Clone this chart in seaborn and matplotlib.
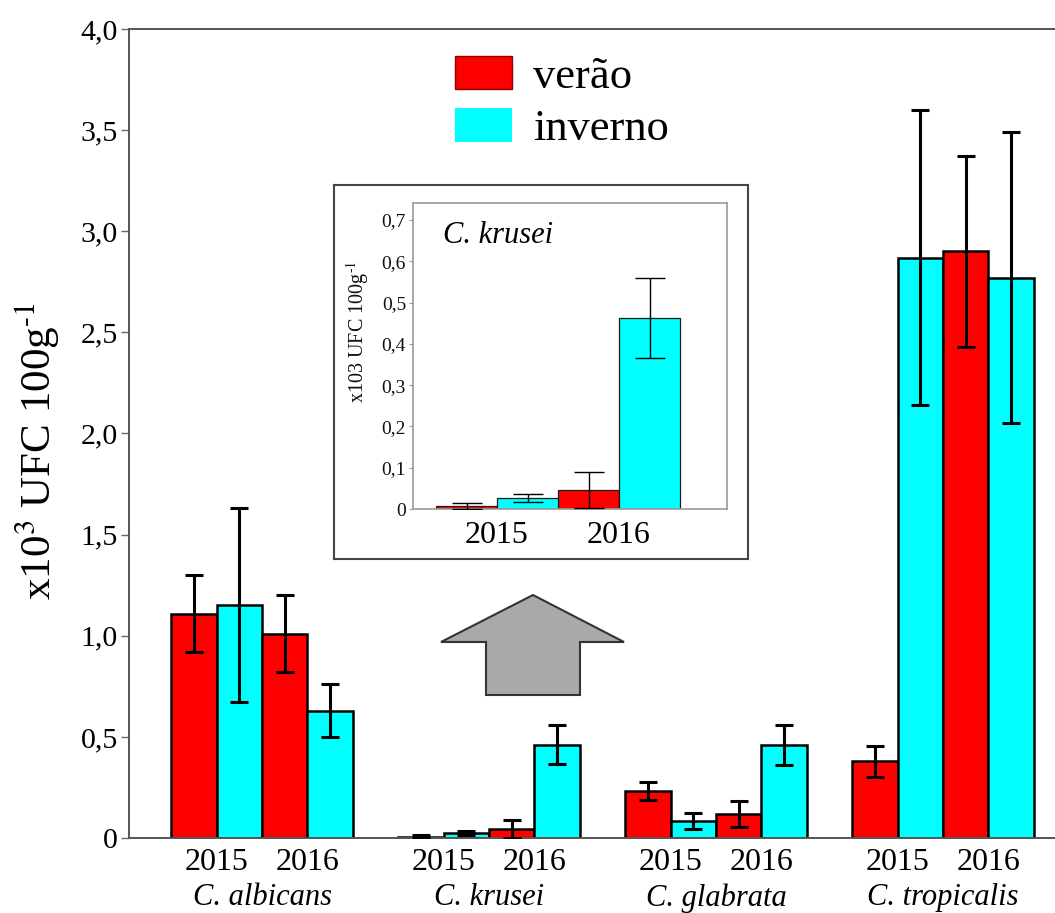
import matplotlib
matplotlib.use("Agg")
import matplotlib.pyplot as plt
from matplotlib.patches import Patch, Polygon
import matplotlib.transforms as mtransforms
import numpy as np
import pandas as pd
import seaborn as sns

# ---------------- data ----------------
species = ["C. albicans", "C. krusei", "C. glabrata", "C. tropicalis"]
groups = ["verão 2015", "inverno 2015", "verão 2016", "inverno 2016"]
years = ["2015", "2016"]
seasons = ["verão", "inverno"]

albicans_mean = [1.11, 1.15, 1.01, 0.63]
krusei_mean = [0.007, 0.027, 0.046, 0.462]
glabrata_mean = [0.233, 0.084, 0.119, 0.46]
tropicalis_mean = [0.38, 2.87, 2.90, 2.77]

albicans_err = [0.19, 0.48, 0.19, 0.13]
krusei_err = [0.007, 0.010, 0.044, 0.097]
glabrata_err = [0.045, 0.038, 0.063, 0.10]
tropicalis_err = [0.077, 0.73, 0.47, 0.72]

main_ticks = [0, 0.5, 1.0, 1.5, 2.0, 2.5, 3.0, 3.5, 4.0]
main_ticklabels = ["0", "0,5", "1,0", "1,5", "2,0", "2,5", "3,0", "3,5", "4,0"]
inset_ticks = [0, 0.1, 0.2, 0.3, 0.4, 0.5, 0.6, 0.7]
inset_ticklabels = ["0", "0,1", "0,2", "0,3", "0,4", "0,5", "0,6", "0,7"]

RED = "#ff0000"
CYAN = "#00ffff"

means = [albicans_mean, krusei_mean, glabrata_mean, tropicalis_mean]
errs = [albicans_err, krusei_err, glabrata_err, tropicalis_err]
df = pd.DataFrame(
    [(sp, g, means[i][j], errs[i][j])
     for i, sp in enumerate(species) for j, g in enumerate(groups)],
    columns=["species", "group", "value", "err"],
)

# ---------------- style ----------------
sns.set_theme(style="white")
plt.rcParams["font.family"] = ["Liberation Serif", "DejaVu Serif"]
plt.rcParams["mathtext.fontset"] = "stix"
for key in ["text.color", "axes.labelcolor", "xtick.color", "ytick.color"]:
    plt.rcParams[key] = "black"

W, H = 1055, 913
fig = plt.figure(figsize=(W / 100, H / 100), dpi=100)


def fbox(x0, y0, x1, y1):
    """Pixel box (top-left origin) -> figure fraction rect."""
    return [x0 / W, 1 - y1 / H, (x1 - x0) / W, (y1 - y0) / H]


# ---------------- main chart ----------------
ax = fig.add_axes(fbox(129, 29, 1055, 838))
sns.barplot(
    data=df, x="species", y="value", hue="group", hue_order=groups,
    order=species, palette=[RED, CYAN, RED, CYAN], saturation=1,
    errorbar=None, edgecolor="black", linewidth=1.8, legend=False,
    width=0.8, ax=ax, zorder=2,
)
bar_sets = list(ax.containers)
for j, cont in enumerate(bar_sets):
    sub = df[df["group"] == groups[j]].set_index("species").loc[species]
    xs = [p.get_x() + p.get_width() / 2 for p in cont.patches]
    ax.errorbar(xs, sub["value"].values, yerr=sub["err"].values, fmt="none",
                ecolor="black", elinewidth=2.2, capsize=6.5, capthick=2.2,
                zorder=3)

ax.set_xlim(-0.586, 3.493)
ax.set_ylim(0, 4.0)
ax.set_yticks(main_ticks)
ax.set_yticklabels(main_ticklabels, fontsize=21.5)
ax.tick_params(axis="y", left=True, length=6, width=1, color="#666666",
               pad=2, labelcolor="black")
ax.set_xticks([])
ax.set_xlabel("")
ax.set_ylabel("")
for side in ["left", "bottom", "top"]:
    ax.spines[side].set_color("#555555")
    ax.spines[side].set_linewidth(1.4)
ax.spines["right"].set_visible(False)

trans = mtransforms.blended_transform_factory(ax.transData, ax.transAxes)
for i, sp in enumerate(species):
    for k, yr in enumerate(years):
        ax.text(i - 0.2 + 0.4 * k, -0.030, yr, transform=trans, ha="center",
                va="center", fontsize=23)
    ax.text(i, -0.074, sp, transform=trans, ha="center", va="center",
            fontsize=22, style="italic")

fig.text(37 / W, 1 - 451 / H, r"x10$^{3}$ UFC 100g$^{\text{-1}}$",
         rotation=90, ha="center", va="center", fontsize=31)

ax.legend(
    handles=[Patch(facecolor=RED, edgecolor="#8b0000", linewidth=1),
             Patch(facecolor=CYAN, edgecolor="none")],
    labels=seasons, loc="upper left", bbox_to_anchor=(455 / W, 1 - 56 / H),
    bbox_transform=fig.transFigure, frameon=False, fontsize=32,
    handlelength=1.28, handleheight=0.78, handletextpad=0.47,
    labelspacing=0.25, borderpad=0, borderaxespad=0,
)

# arrow pointing to the zoomed panel
arrow_px = [(533, 595), (624, 642), (580, 642), (580, 695),
            (486, 695), (486, 642), (441, 642)]
arrow = Polygon([(x / W, 1 - y / H) for x, y in arrow_px], closed=True,
                facecolor="#aba8a8", edgecolor="#333333", linewidth=1.5,
                transform=fig.transFigure, clip_on=False, zorder=5)
fig.patches.append(arrow)

# ---------------- zoomed panel for C. krusei ----------------
box = fig.add_axes(fbox(334, 185, 748, 559), zorder=3)
box.set_facecolor("white")
box.set_xticks([])
box.set_yticks([])
for s in box.spines.values():
    s.set_color("#444444")
    s.set_linewidth(1.5)

axi = fig.add_axes(fbox(413, 203, 727, 509), zorder=4)
kdf = pd.DataFrame({
    "year": [years[0], years[0], years[1], years[1]],
    "season": seasons * 2,
    "value": krusei_mean,
    "err": krusei_err,
})
sns.barplot(
    data=kdf, x="year", y="value", hue="season", hue_order=seasons,
    order=years, palette=[RED, CYAN], saturation=1, errorbar=None,
    edgecolor="#1a1a1a", linewidth=0.9, width=1.0, legend=False, ax=axi,
    zorder=2,
)
inset_sets = list(axi.containers)
for j, cont in enumerate(inset_sets):
    sub = kdf[kdf["season"] == seasons[j]].set_index("year").loc[years]
    xs = [p.get_x() + p.get_width() / 2 for p in cont.patches]
    axi.errorbar(xs, sub["value"].values, yerr=sub["err"].values, fmt="none",
                 ecolor="black", elinewidth=1.0, capsize=11, capthick=1.0,
                 zorder=3)

axi.set_xlim(-0.689, 1.885)
axi.set_ylim(0, 0.741)
axi.set_yticks(inset_ticks)
axi.set_yticklabels(inset_ticklabels, fontsize=14)
axi.tick_params(axis="y", left=True, length=3, width=0.8, color="#999999",
                pad=2, labelcolor="#111111")
axi.set_xticks([])
axi.set_xlabel("")
axi.set_ylabel("")
for s in axi.spines.values():
    s.set_color("#9a9a9a")
    s.set_linewidth(1.2)

itrans = mtransforms.blended_transform_factory(axi.transData, axi.transAxes)
for k, yr in enumerate(years):
    axi.text(k, -0.085, yr, transform=itrans, ha="center", va="center",
             fontsize=23)
axi.text(0.096, 0.895, "C. krusei", transform=axi.transAxes, ha="left",
         va="center", fontsize=22, style="italic")
fig.text(358 / W, 1 - 332 / H, r"x103 UFC 100g$^{\text{-1}}$", rotation=90,
         ha="center", va="center", fontsize=14.5, color="#111111")

fig.savefig("out.png", dpi=100, facecolor="white")
